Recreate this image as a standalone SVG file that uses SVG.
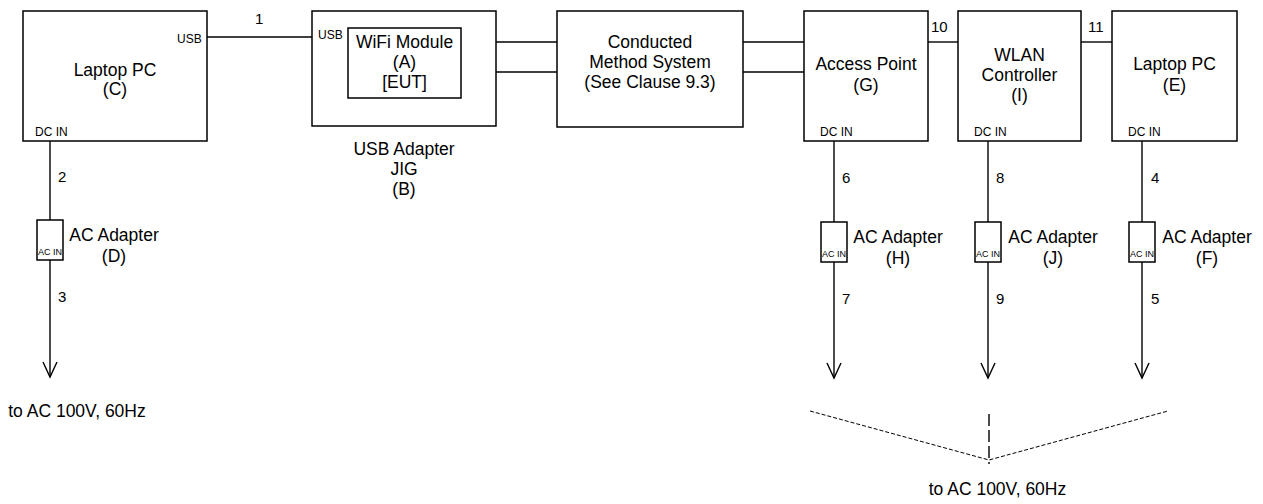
<svg xmlns="http://www.w3.org/2000/svg" width="1263" height="504" viewBox="0 0 1263 504">
<style>
.box{fill:#fff;stroke:#000;stroke-width:1.5}
.ln{fill:none;stroke:#000;stroke-width:1.4}
.arw{marker-end:url(#arr)}
.dash{fill:none;stroke:#000;stroke-width:1;stroke-dasharray:4,2}
.t{font-family:"Liberation Sans",Arial,sans-serif;font-size:17.5px;fill:#000;text-anchor:middle}
.s{font-family:"Liberation Sans",Arial,sans-serif;font-size:12px;fill:#000}
.n{font-family:"Liberation Sans",Arial,sans-serif;font-size:15px;fill:#000}
.ac{font-family:"Liberation Sans",Arial,sans-serif;font-size:9px;fill:#000;text-anchor:middle}
</style>
<defs>
<marker id="arr" markerWidth="18" markerHeight="18" viewBox="-16 -9 18 18" refX="0" refY="0" orient="auto" markerUnits="userSpaceOnUse">
<path d="M-15,-7 L0,0 L-15,7" fill="none" stroke="#000" stroke-width="1.4"/>
</marker>
</defs>
<g id="connectors">
<line class="ln" x1="207" y1="37" x2="312" y2="37"/>
<line class="ln" x1="496" y1="42" x2="557" y2="42"/>
<line class="ln" x1="496" y1="72" x2="557" y2="72"/>
<line class="ln" x1="743" y1="42" x2="804" y2="42"/>
<line class="ln" x1="743" y1="72" x2="804" y2="72"/>
<line class="ln" x1="928" y1="42" x2="958" y2="42"/>
<line class="ln" x1="1081" y1="42" x2="1112" y2="42"/>
<line class="ln" x1="50" y1="141" x2="50" y2="220"/>
<line class="ln arw" x1="50" y1="260" x2="50" y2="377"/>
<line class="ln" x1="834" y1="141" x2="834" y2="222"/>
<line class="ln arw" x1="834" y1="262" x2="834" y2="378"/>
<line class="ln" x1="988" y1="141" x2="988" y2="222"/>
<line class="ln arw" x1="988" y1="262" x2="988" y2="378"/>
<line class="ln" x1="1142" y1="141" x2="1142" y2="222"/>
<line class="ln arw" x1="1142" y1="262" x2="1142" y2="378"/>
<polyline class="dash" points="810,411 989,460 1168,411"/>
<line x1="989" y1="414" x2="989" y2="464" stroke="#000" stroke-width="1.4" stroke-dasharray="12,4"/>
<text class="n" x="255" y="24">1</text>
<text class="n" x="58" y="182">2</text>
<text class="n" x="58" y="302">3</text>
<text class="n" x="1151" y="183">4</text>
<text class="n" x="1151" y="304">5</text>
<text class="n" x="842" y="183">6</text>
<text class="n" x="842" y="304">7</text>
<text class="n" x="996" y="183">8</text>
<text class="n" x="996" y="304">9</text>
<text class="n" x="931" y="32">10</text>
<text class="n" x="1088" y="32">11</text>
</g>
<g id="laptopC">
<rect class="box" x="23" y="11" width="184" height="130"/>
<text class="t" x="115" y="76">Laptop PC</text>
<text class="t" x="115" y="95">(C)</text>
<text class="s" x="177" y="43">USB</text>
<text class="s" x="35" y="136">DC IN</text>
</g>
<g id="usbAdapterB">
<rect class="box" x="312" y="11" width="184" height="115"/>
<text class="s" x="318" y="39">USB</text>
<text class="t" x="404" y="155">USB Adapter</text>
<text class="t" x="404" y="175">JIG</text>
<text class="t" x="404" y="195">(B)</text>
</g>
<g id="wifiA">
<rect class="box" x="348" y="28" width="113" height="70"/>
<text class="t" x="404.5" y="48">WiFi Module</text>
<text class="t" x="404.5" y="68">(A)</text>
<text class="t" x="404.5" y="88">[EUT]</text>
</g>
<g id="conducted">
<rect class="box" x="557" y="11" width="186" height="116"/>
<text class="t" x="650" y="48">Conducted</text>
<text class="t" x="650" y="68">Method System</text>
<text class="t" x="650" y="88">(See Clause 9.3)</text>
</g>
<g id="apG">
<rect class="box" x="804" y="11" width="124" height="130"/>
<text class="t" x="866" y="70">Access Point</text>
<text class="t" x="866" y="91">(G)</text>
<text class="s" x="820" y="136">DC IN</text>
</g>
<g id="wlanI">
<rect class="box" x="958" y="11" width="123" height="130"/>
<text class="t" x="1019.5" y="61">WLAN</text>
<text class="t" x="1019.5" y="81">Controller</text>
<text class="t" x="1019.5" y="101">(I)</text>
<text class="s" x="974" y="136">DC IN</text>
</g>
<g id="laptopE">
<rect class="box" x="1112" y="11" width="125" height="130"/>
<text class="t" x="1174.5" y="70">Laptop PC</text>
<text class="t" x="1174.5" y="91">(E)</text>
<text class="s" x="1128" y="136">DC IN</text>
</g>
<g id="acD">
<rect class="box" x="37" y="220" width="26" height="40"/>
<text class="ac" x="50" y="255">AC IN</text>
<text class="t" x="114" y="241">AC Adapter</text>
<text class="t" x="114" y="262">(D)</text>
</g>
<g id="acH">
<rect class="box" x="821" y="222" width="26" height="40"/>
<text class="ac" x="834" y="257">AC IN</text>
<text class="t" x="898" y="243">AC Adapter</text>
<text class="t" x="898" y="264">(H)</text>
</g>
<g id="acJ">
<rect class="box" x="975" y="222" width="26" height="40"/>
<text class="ac" x="988" y="257">AC IN</text>
<text class="t" x="1053" y="243">AC Adapter</text>
<text class="t" x="1053" y="264">(J)</text>
</g>
<g id="acF">
<rect class="box" x="1129" y="222" width="26" height="40"/>
<text class="ac" x="1142" y="257">AC IN</text>
<text class="t" x="1207" y="243">AC Adapter</text>
<text class="t" x="1207" y="264">(F)</text>
</g>
<g id="power">
<text class="t" x="77" y="417">to AC 100V, 60Hz</text>
<text class="t" x="997.5" y="495">to AC 100V, 60Hz</text>
</g>
</svg>
